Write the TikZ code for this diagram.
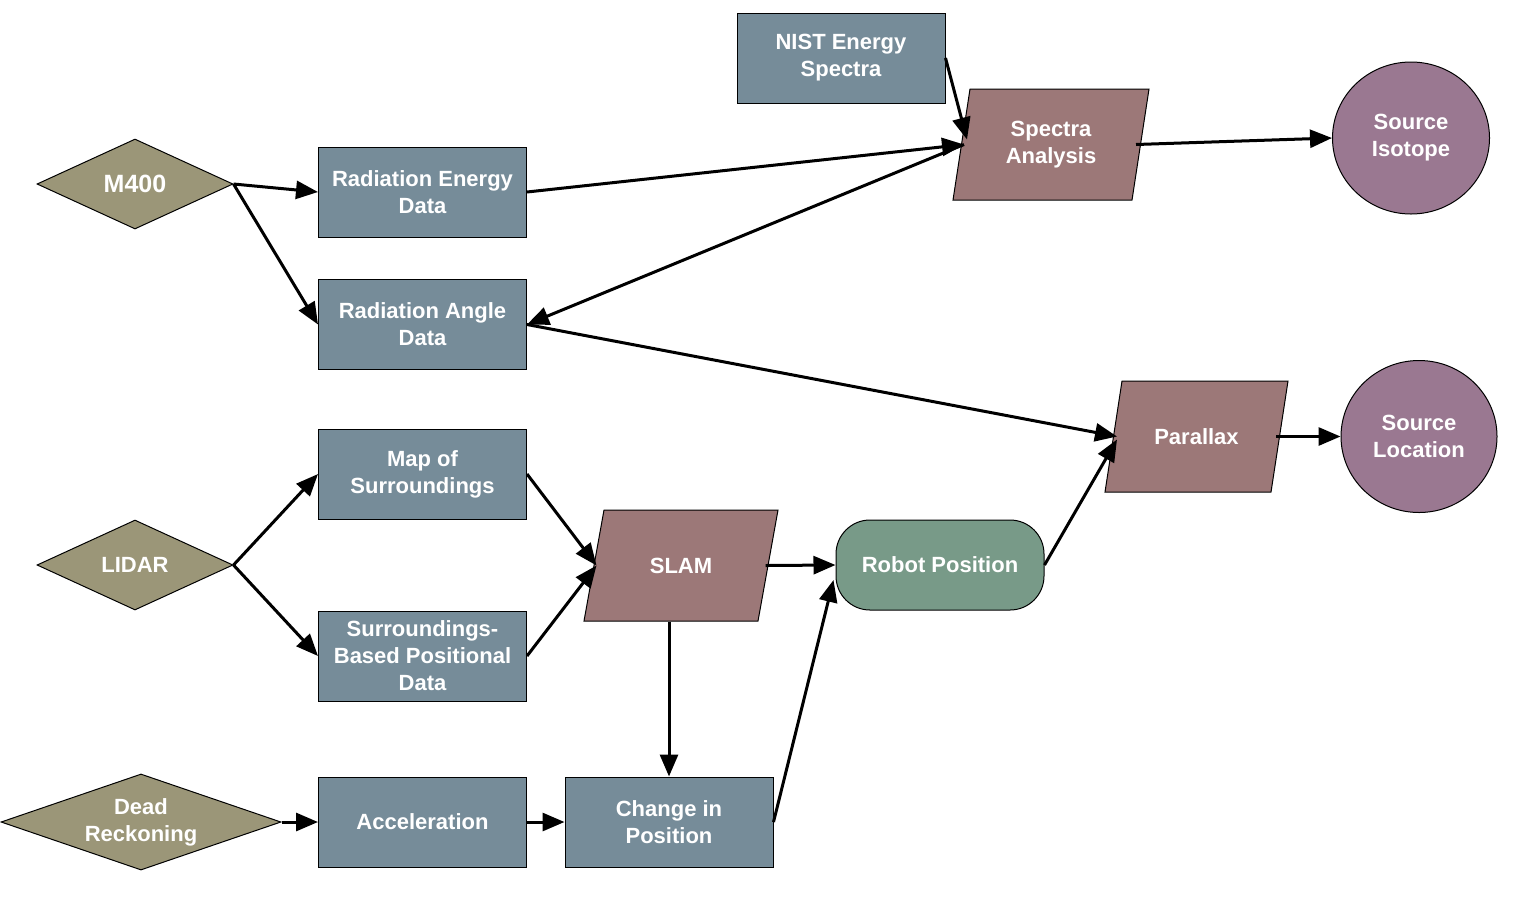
\documentclass[tikz,border=0pt]{standalone}
\usepackage{fontspec}
\setmainfont{Liberation Sans}
\usetikzlibrary{shapes.geometric,arrows.meta,calc}
\definecolor{boxc}{HTML}{768C99}
\definecolor{diac}{HTML}{9B9678}
\definecolor{parc}{HTML}{9C7878}
\definecolor{ellc}{HTML}{9A7891}
\definecolor{robc}{HTML}{789A88}
\tikzset{
  base/.style={draw=black, line width=0.5pt, text=white, align=center, inner sep=0pt,
    font={\fontsize{11}{13.5}\selectfont\bfseries}},
  databox/.style={base, rectangle, fill=boxc, minimum width=104pt, minimum height=45pt},
  srcdia/.style={base, diamond, fill=diac, inner sep=-8pt, minimum width=98pt, minimum height=45pt},
  pargram/.style={draw=black, line width=0.5pt, fill=parc},
  partext/.style={base, rectangle, draw=none, minimum height=55.5pt},
  outell/.style={base, ellipse, fill=ellc, minimum width=78.5pt, minimum height=76pt},
  robbox/.style={base, rectangle, rounded corners=17pt, fill=robc, minimum width=104pt, minimum height=45pt},
  arr/.style={line width=1.5pt, -{Triangle[length=11pt,width=9pt]}}
}
% #1,#2 centre; #3 edge width; #4 slant; #5 height (all in px units)
\newcommand\drawpargram[5]{\path[pargram] (#1-#3/2-#4/2, #2+#5/2) -- ++(#3,0) -- ++(#4,-#5) -- ++(-#3,0) -- cycle;}
\begin{document}
\begin{tikzpicture}[x=0.5pt,y=-0.5pt]
\useasboundingbox (0,0) rectangle (1519,922);
% parallelogram outlines
\drawpargram{1051}{144.5}{179}{17}{111}
\drawpargram{681}{565.5}{174}{20}{111}
\drawpargram{1196.5}{436.5}{166}{17}{111}
% nodes
\node[databox] (NIST) at (841,58) {NIST Energy\\Spectra};
\node[databox] (RE) at (422.5,192) {Radiation Energy\\Data};
\node[databox] (RA) at (422.5,324.5) {Radiation Angle\\Data};
\node[databox] (MAP) at (422.5,474) {Map of\\Surroundings};
\node[databox] (SBP) at (422.5,656) {Surroundings-\\Based Positional\\Data};
\node[databox] (ACC) at (422.5,822) {Acceleration};
\node[databox] (CHG) at (669,822) {Change in\\Position};
\node[srcdia, font={\fontsize{12.5}{14}\selectfont\bfseries}] (M400) at (135,184) {M400};
\node[srcdia] (LIDAR) at (135,565) {LIDAR};
\node[srcdia, minimum width=140pt] (DR) at (141,822) {Dead\\Reckoning};
\node[partext, minimum width=89.5pt] (SA) at (1051,144.5) {Spectra\\Analysis};
\node[partext, minimum width=87pt] (SLAM) at (681,565.5) {SLAM};
\node[partext, minimum width=83pt] (PX) at (1196.5,436.5) {Parallax};
\node[robbox] (ROB) at (940,565) {Robot Position};
\node[outell] (SI) at (1411,138) {Source\\Isotope};
\node[outell, minimum width=78pt] (SL) at (1419,436.5) {Source\\Location};
% connectors
\draw[arr] (M400.east) -- (RE.west);
\draw[arr] (M400.east) -- (RA.west);
\draw[arr] (RE.east) -- ($(SA.west)+(3,0)$);
\draw[arr] ($(SA.west)+(3,0)$) -- (RA.east);
\draw[arr] (NIST.east) -- ($(SA.west)+(6,-5)$);
\draw[arr] ($(SA.east)-(5,0)$) -- (SI.west);
\draw[arr] (RA.east) -- ($(PX.west)+(4,0)$);
\draw[arr] (LIDAR.east) -- (MAP.west);
\draw[arr] (LIDAR.east) -- (SBP.west);
\draw[arr] (MAP.east) -- ($(SLAM.west)+(3,0)$);
\draw[arr] (SBP.east) -- ($(SLAM.west)+(3,0)$);
\draw[arr] ($(SLAM.east)-(3,0)$) -- (ROB.west);
\draw[arr] (SLAM.south -| CHG.north) -- (CHG.north);
\draw[arr] (CHG.east) -- ($(ROB.west)+(-2,15)$);
\draw[arr] (ROB.east) -- ($(PX.west)+(4,3)$);
\draw[arr] ($(PX.east)-(4,0)$) -- (SL.west);
\draw[arr] (DR.east) -- (ACC.west);
\draw[arr] (ACC.east) -- (CHG.west);
\end{tikzpicture}
\end{document}
